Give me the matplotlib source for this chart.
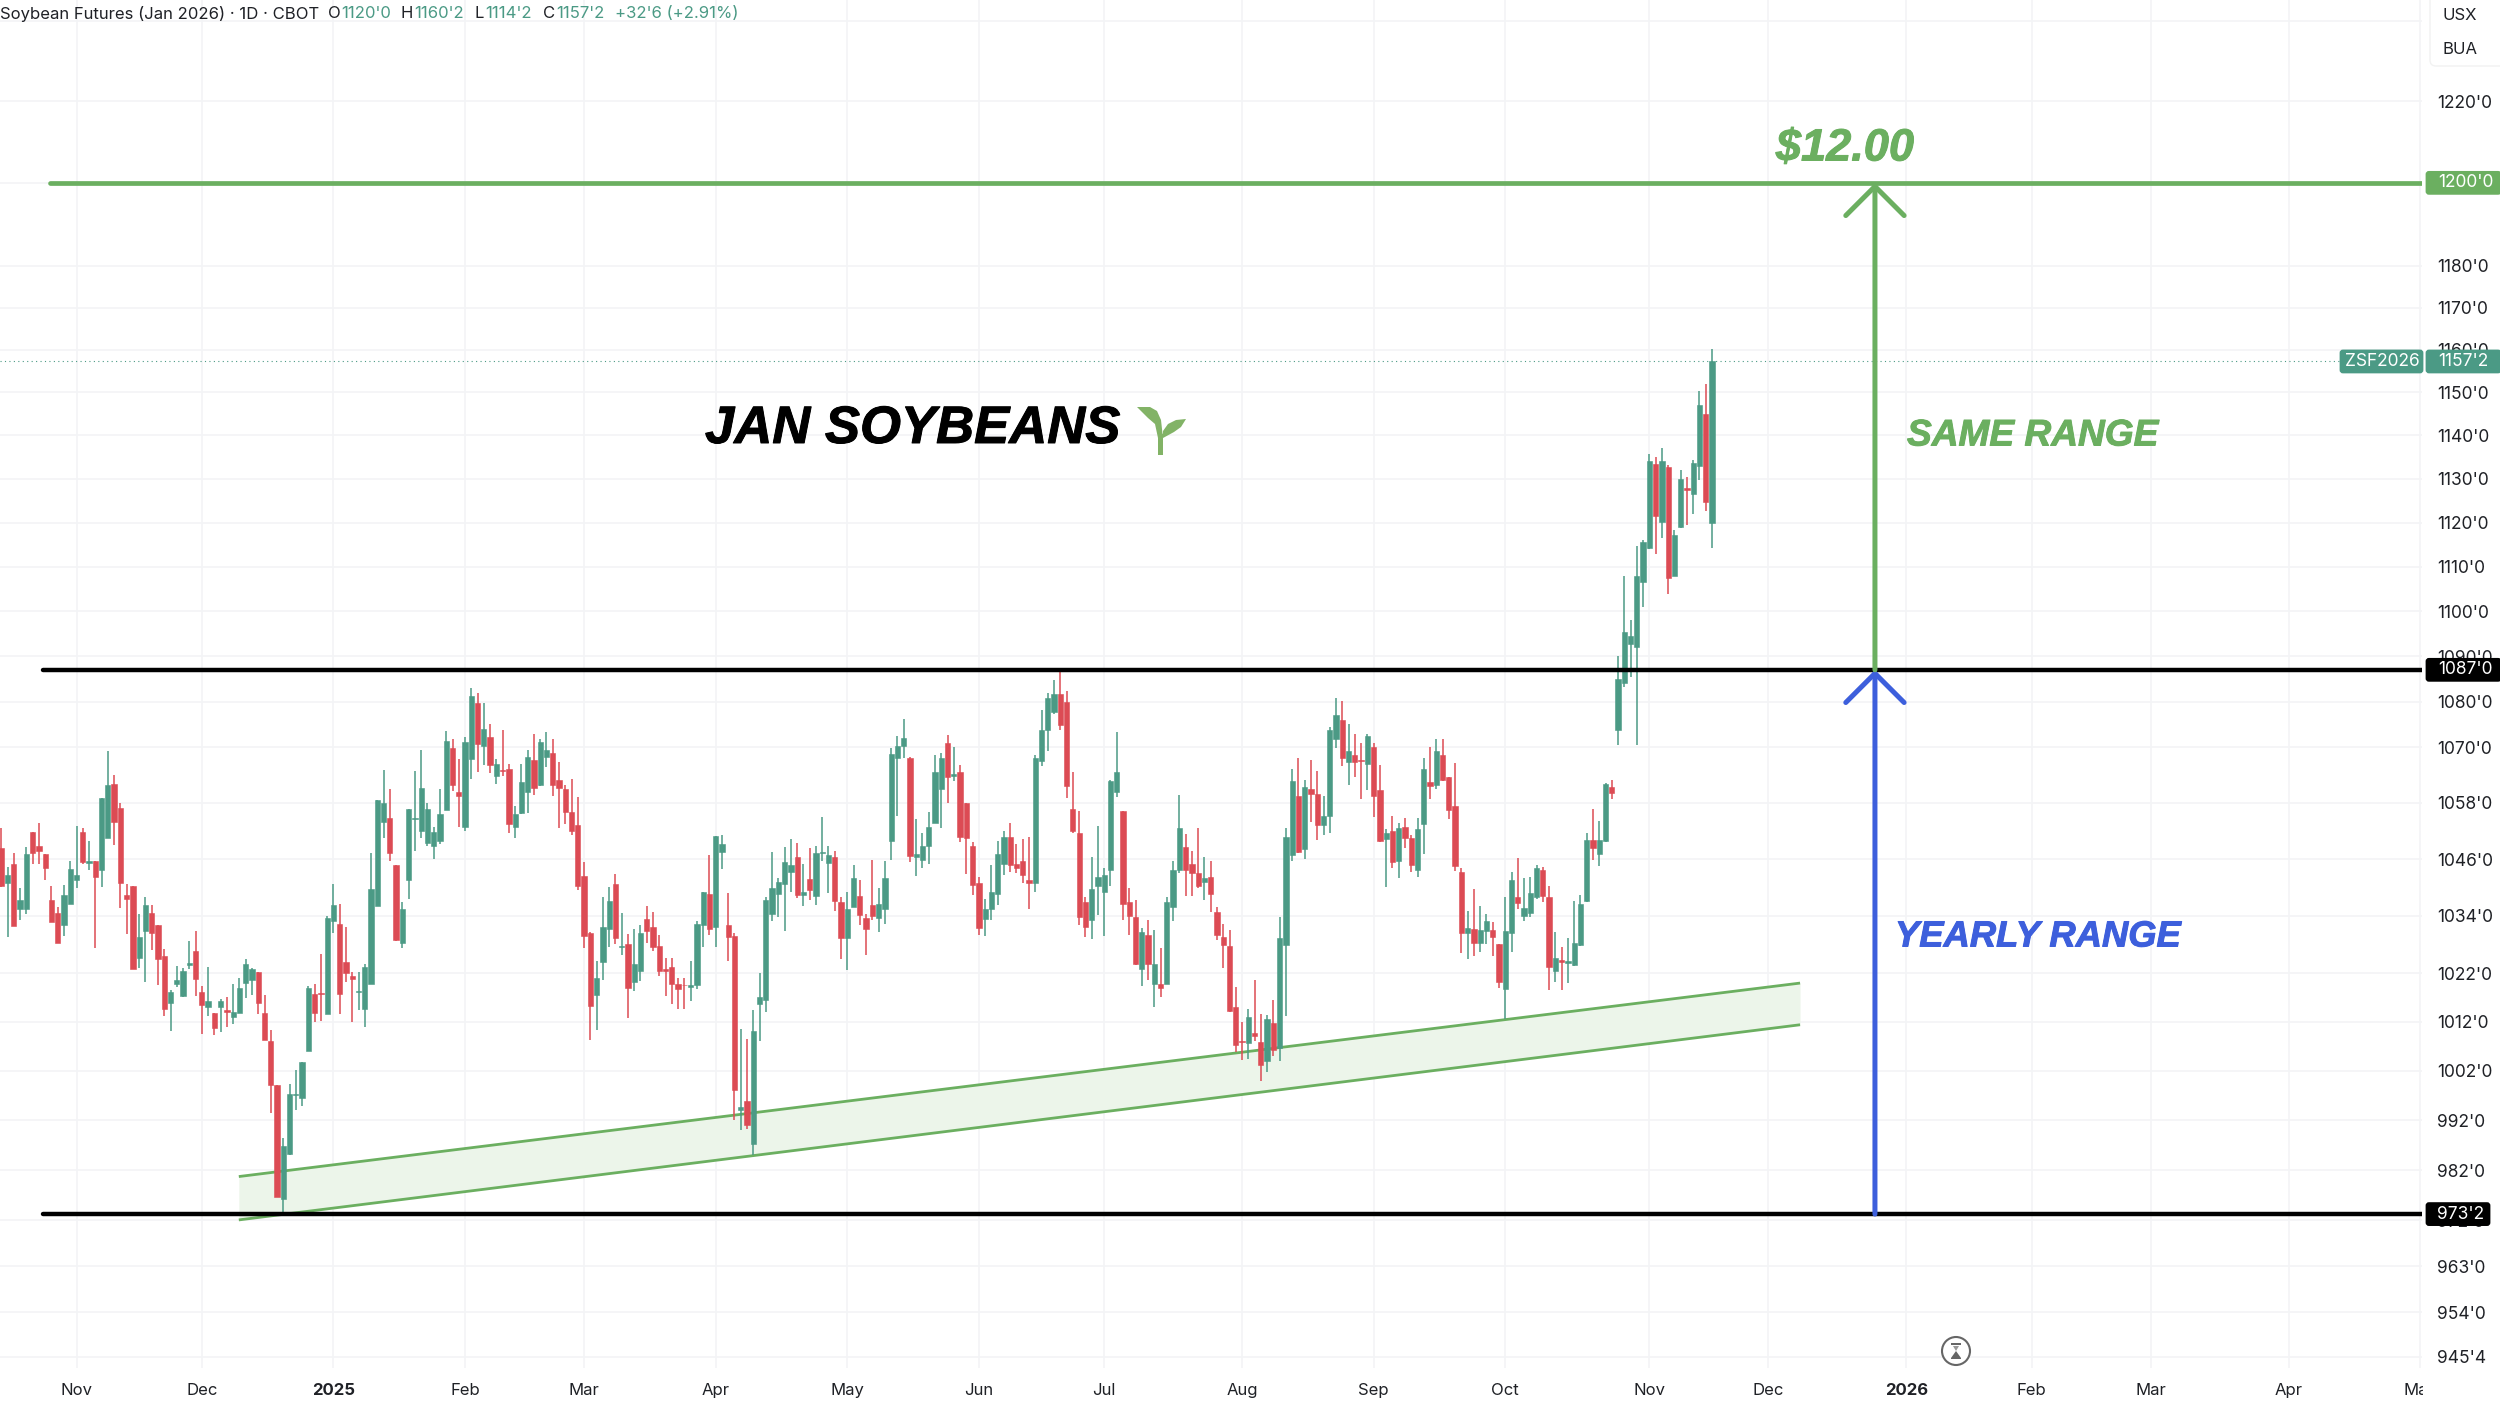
import numpy as np
import matplotlib
matplotlib.use("Agg")
import matplotlib.pyplot as plt
import matplotlib.patheffects as pe
from matplotlib.patches import FancyBboxPatch, Polygon, Circle
from matplotlib.transforms import IdentityTransform, Bbox, TransformedBbox

W, H = 2500, 1402

directions = (
    "RGRGGRRRRR" "GGGRGRGGRR" "RRGGRRRGGG" "GRRGRGRGGG" "GRRRRGGGGG"
    "RRGGRRRGGG" "GGRRGGGGGG" "GGRRGGRGRG" "RRGGGRGGRR" "RRRRRGGGRG"
    "RGGRRRRRRR" "GGGRGGRRGR" "GGGGGGGRGR" "GGGRRGGRRR" "GGGGGRGGGG"
    "GRGRRRRGGG" "GRRRRGGGGR" "RRRRGGGGGR" "RRGRGRGGGR" "RRGRRRRRRG"
    "RRGRGGGRGR" "RGGGRGRRGR" "RGRGRRGGRG" "RRRRGRGGRR" "GGRGGGRRGR"
    "GGGGRGGRGG" "GGGGRGRGGR" "GGRG"
)

highs = [
    1052.6,1044.4,1047.4,1039.8,1048.6,1051.8,1053.6,1047.1,1040.4,1035.8,
    1040.6,1045.5,1053.1,1052.6,1049.8,1045.6,1059,1069.3,1064,1058,
    1040.8,1040.4,1034.4,1037.9,1036.4,1032.2,1027,1018.5,1023.5,1023.2,
    1028.8,1030.9,1019.4,1023.4,1013.8,1016.7,1017.2,1019.8,1021.1,1024.9,
    1023.2,1022.4,1017.5,1010.4,999.2,988.4,999.4,1002.1,1003.7,1019.4,
    1019.8,1026.1,1033.9,1040.8,1036.5,1031.6,1022.4,1022.4,1023.9,1047.4,
    1058.6,1065.1,1061,1044.7,1037,1056.8,1065,1069.5,1058.1,1052.9,
    1061,1073.5,1071.9,1067.5,1072.2,1083,1082,1079.6,1075.2,1067.5,
    1073.7,1066.4,1057.3,1066.5,1069.5,1073,1071.9,1073.3,1071.8,1066.9,
    1061.8,1063.1,1059.3,1045.4,1030.6,1024.5,1037.9,1040.1,1042.8,1034.7,
    1030.3,1031.3,1032.2,1036.1,1034.9,1030,1025.3,1025.3,1021.1,1021.1,
    1024.5,1033,1039.1,1046.9,1051,1051.1,1038.9,1030.5,1010.5,1008.5,
    1014.5,1022,1037.9,1047.6,1042,1048.6,1050.2,1049.4,1045,1048.3,
    1048.8,1054.9,1048.8,1047.8,1038,1039,1044.7,1041.5,1034.5,1045.9,
    1039.9,1045.6,1069.9,1072.5,1076.2,1068,1054.5,1051.5,1056,1068.3,
    1068.8,1072.6,1070.1,1066.1,1058.1,1049.6,1042.2,1037.6,1044.8,1049.9,
    1051.9,1053.8,1049.3,1050.3,1050.8,1068.3,1078.2,1081.8,1084.7,1087,
    1082.3,1064.6,1056.3,1038,1046.4,1053.1,1044.2,1063,1073.3,1056.3,
    1039.9,1037.4,1031.4,1033.1,1031.1,1027.2,1038,1045.6,1059.8,1051.3,
    1047.7,1052.7,1046.4,1045.6,1035.9,1032.4,1031,1019.2,1012,1014.6,
    1020.6,1013.7,1013.4,1016.5,1033.7,1052.7,1065.3,1067.6,1063,1067.3,
    1064.8,1059.6,1074.5,1080.9,1080.2,1075.2,1073,1070.9,1072.9,1070.9,
    1066.1,1052.5,1055.1,1053.6,1054.7,1051.1,1054.7,1067.6,1070,1071.8,
    1071.9,1063.6,1066.6,1044.1,1035.1,1039.6,1036.1,1034.4,1032.7,1028.2,
    1038,1043.3,1046.3,1041.9,1042.3,1044.8,1044.4,1040.4,1030.6,1027.5,
    1029.4,1037.2,1038.4,1051.5,1056.6,1054.2,1062.2,1063,1090,1108,
    1098,1114.7,1116,1135.7,1135,1137,1133.2,1118.4,1132,1130.3,
    1134.3,1150.4,1152,1160.25,
]

body_tops = [
    1048.3,1042.7,1045,1037.3,1047.1,1051.8,1048.9,1047.1,1037.3,1034.7,
    1038.4,1043.9,1042.7,1051.8,1045.6,1045.6,1059,1061.8,1062,1057,
    1038.4,1040.4,1029.6,1036.2,1034.7,1032.2,1025.7,1018.2,1020.7,1022.5,
    1024.1,1026.7,1018.2,1016.2,1013.8,1016.2,1014.4,1014.1,1018.9,1023.9,
    1022.9,1022.2,1013.8,1008,999.2,986.9,997.2,997.3,1003.7,1018.9,
    1017.7,1018,1033.6,1036.4,1032.3,1024.4,1021.5,1018.4,1023.4,1039.7,
    1058.6,1058.1,1054.8,1044.7,1035.5,1056.6,1054.8,1061.2,1056.7,1051.8,
    1055.6,1071.5,1069.9,1060.4,1071.2,1081.2,1079.6,1074.1,1072.2,1066.5,
    1065.2,1065.3,1055.6,1062.5,1067.9,1067.3,1071.2,1069.4,1068.7,1062.9,
    1061,1056,1053.2,1042.5,1030.5,1021.1,1031.6,1037.1,1040.8,1027.7,
    1028.2,1024,1030.5,1033.3,1031.6,1027.8,1022.9,1023.3,1019.8,1019.7,
    1019.5,1032.4,1039.1,1038.6,1051,1049.2,1032,1029.9,994.6,995.9,
    1010.1,1017.2,1037.3,1039.8,1041.1,1045.4,1044.7,1046.4,1039,1041.8,
    1047.3,1047.5,1046.9,1046.4,1036.9,1035.4,1041.9,1038.3,1033.5,1036.2,
    1036.6,1041.9,1068.6,1070.3,1072,1067.8,1047,1048.9,1052.9,1064.6,
    1067.6,1071,1064.2,1064.7,1058.1,1048.8,1041,1035.4,1039,1047,
    1050.7,1050.7,1044.9,1045.5,1041.5,1067.6,1073.7,1080.7,1081.6,1081.6,
    1080,1056.8,1051.5,1036.9,1039.7,1042.2,1042.7,1062.8,1064.6,1056.3,
    1036.9,1033.7,1030.6,1030,1023.9,1019.9,1036.9,1043.7,1052.7,1048.5,
    1045,1043,1042,1042.2,1034.8,1029.5,1027.8,1015.1,1008.1,1012.9,
    1009.8,1007.9,1012.5,1011.7,1029.4,1050.7,1062.7,1059.6,1061.4,1061,
    1060,1055.1,1073.8,1077,1076,1069.2,1068.3,1067.2,1072.5,1070,
    1060.7,1051.5,1051.9,1052.7,1052.9,1050.5,1052.5,1065.3,1062.6,1069.2,
    1068.3,1063.5,1057.4,1043.3,1031.5,1031.2,1031.1,1032.9,1031,1028.1,
    1030.8,1041.6,1037.9,1035.6,1038.8,1044.1,1043.8,1037.9,1025.3,1024.7,
    1024.5,1028.4,1036.6,1050,1050,1050,1062,1061.4,1085,1095.3,
    1094.5,1107.8,1115.5,1134.2,1133.3,1134.2,1132.8,1117.2,1130,1128,
    1133.7,1147,1145,1157.25,
]

body_bottoms = [
    1040.4,1040.9,1031.8,1035.5,1035.5,1047.4,1047.8,1044.1,1032.8,1028.4,
    1032.2,1036.5,1041.6,1045.4,1045.2,1042.2,1043.8,1050.6,1054,1041,
    1037.6,1023,1025.3,1030.8,1030.4,1024.9,1014.6,1015.8,1019.9,1017.4,
    1023.8,1020.9,1015.5,1015.1,1010.7,1015.1,1014,1013,1013.8,1020.1,
    1020.6,1015.8,1008.3,999.2,976.6,976.3,985.2,997.1,996.5,1006,
    1013.8,1017.7,1013.7,1033,1017.7,1022.1,1020.9,1018.2,1014.6,1019.9,
    1036.1,1053.9,1047.2,1029,1028.4,1041.6,1054.6,1051.9,1049.5,1048.8,
    1049.8,1056.5,1061.9,1059.5,1052.8,1067.5,1070.7,1070.4,1066.2,1063.8,
    1064.9,1053.5,1052.9,1055.8,1060.3,1061.2,1061.8,1067.9,1061.9,1061.2,
    1056,1052.1,1040.4,1029.9,1015.2,1017.5,1024.3,1031.2,1029.4,1027.4,
    1018.9,1020.3,1022.5,1030.9,1027.4,1022.6,1022.6,1019.8,1018.8,1019.5,
    1019.2,1019.5,1032,1031.2,1031.6,1047.5,1029.5,998.1,994.1,991.1,
    987.2,1015.7,1016.5,1034.4,1038.6,1040.8,1043.3,1038.4,1038.4,1039.4,
    1038.3,1047.3,1045.1,1037.1,1029.3,1029.3,1035.9,1034.2,1031.2,1034,
    1033.5,1035.4,1049.9,1067.6,1070.3,1046.7,1046.4,1045.9,1048.9,1053.7,
    1061.1,1063.7,1063.8,1050.7,1050.6,1040.6,1031.4,1033.4,1035.4,1038.6,
    1045,1044.7,1044.2,1042.7,1041,1041,1067,1073.7,1077.7,1074.9,
    1061.6,1051.9,1033.8,1031.7,1033.1,1040.4,1039.1,1043.6,1060.3,1036.6,
    1034,1023.9,1023,1023.9,1019.9,1018.9,1019.8,1035.9,1043.8,1043.6,
    1043,1040.4,1041.2,1038.6,1030,1027.9,1014.3,1007.3,1007.9,1007.6,
    1009,1003.2,1003.9,1006.2,1006.6,1027.9,1046.8,1047.6,1048.1,1059.9,
    1053.3,1053.3,1055.1,1071.9,1067.7,1066.9,1066.9,1067,1066.5,1059.5,
    1049.8,1050.2,1045.4,1045.6,1050.4,1044.7,1043.8,1053.4,1061.7,1061.8,
    1062.9,1056.5,1044.6,1030.4,1030.4,1028.3,1028.3,1030.9,1029.5,1020.2,
    1018.8,1030.4,1036.8,1034,1034.6,1037.9,1038.2,1023.3,1022.6,1024.3,
    1024.2,1023.8,1027.9,1037.1,1048.4,1047.1,1049.8,1060.2,1073.7,1084,
    1092.8,1092,1106.5,1114.2,1121.6,1120.2,1107.5,1108,1119,1127.4,
    1126.5,1133,1124.6,1120,
]

lows = [
    1040,1029.5,1031.8,1033.1,1034.5,1045,1045,1041.6,1032.8,1028.4,
    1029.8,1036.5,1039.9,1045,1043.8,1027.2,1040.2,1050.6,1049,1035.7,
    1030.3,1023,1023.2,1020.2,1026.8,1019.6,1013.3,1010.1,1019.1,1017.1,
    1023,1017.4,1009.6,1013.3,1009.2,1009.9,1010.9,1011.6,1013.8,1017,
    1017.5,1013.6,1008.2,993.5,976.6,973.25,985.1,994,994.8,1006,
    1011.9,1012.2,1013.7,1030.5,1013.6,1020.3,1011.9,1014.5,1010.9,1019.9,
    1036.1,1050.4,1045.6,1028.8,1027.2,1037.5,1047.8,1050.5,1048.8,1046,
    1049.2,1056.5,1060.5,1052.9,1052.1,1063.2,1064.7,1066.2,1064.4,1062,
    1063.8,1051.6,1050.5,1055.6,1055.8,1059.7,1061.6,1065.8,1059.6,1052.7,
    1053.4,1051.2,1039.4,1027.3,1008.3,1010.3,1020.7,1027.5,1028.1,1025.9,
    1012.8,1018.3,1020.4,1028.3,1026.6,1021.4,1017.3,1015.7,1014.7,1014.7,
    1016.2,1018.7,1027.4,1030,1027.5,1043.9,1024.6,992,990,990.2,
    985,1008,1014.1,1032.9,1033.8,1030.8,1039,1037.7,1036,1037.3,
    1036.4,1045.6,1038.8,1035.1,1025,1022.8,1035.8,1032.1,1025.9,1033.2,
    1030.7,1032.4,1045.8,1055.1,1067.7,1045.3,1042.4,1044.2,1044.9,1053.7,
    1052.6,1058.1,1062.8,1049.7,1042.8,1038.5,1030,1029.8,1033.1,1036.2,
    1042.6,1043.3,1043.1,1041,1035.4,1039,1065.9,1069.2,1077.4,1073.8,
    1059.1,1051.6,1032.1,1029.6,1029.1,1034.1,1029.8,1040.3,1059.2,1033.2,
    1030.1,1023.7,1019.3,1020.6,1015.1,1017.2,1019.8,1032.9,1043.1,1038.1,
    1038.1,1039.9,1037.4,1034.8,1028.9,1023.2,1014.1,1005.9,1004.1,1004.4,
    1008.1,1000,1001.8,1005.1,1003.9,1013.2,1045.6,1047.2,1046,1053.9,
    1050,1051.1,1051.6,1069.9,1065.9,1061.8,1063.5,1058.9,1060.7,1054.9,
    1049.7,1040.2,1044.1,1042,1048.3,1043.2,1042.3,1047.1,1058.8,1061.1,
    1062.8,1054.5,1043.4,1026.2,1024.9,1025.6,1026.5,1028.2,1025.6,1019,
    1012.5,1026.5,1035.5,1033,1033.7,1037.5,1037,1018.6,1020.3,1018.6,
    1020.1,1023.6,1027.7,1037,1045.9,1044.5,1049.7,1058.8,1070.5,1083.2,
    1085.5,1070.5,1101,1114,1112.8,1116.5,1103.8,1108,1118.8,1119.5,
    1122,1129.7,1122.7,1114.25,
]

month_labels = ["Nov","Dec","2025","Feb","Mar","Apr","May","Jun","Jul","Aug","Sep","Oct",
                "Nov","Dec","2026","Feb","Mar","Apr","May"]
month_bars = [12,32,53,74,93,114,135,156,176,198,219,240,263,282,304,324,343,365,386]

price_ticks = [1240,1220,1200,1180,1170,1160,1150,1140,1130,1120,1110,1100,1090,1080,1070,
               1058,1046,1034,1022,1012,1002,992,982,972,963,954,945.5]
price_labels = ["","1220'0","","1180'0","1170'0","1160'0","1150'0","1140'0","1130'0",
                "1120'0","1110'0","1100'0","1090'0","1080'0","1070'0","1058'0","1046'0","1034'0",
                "1022'0","1012'0","1002'0","992'0","982'0","972'0","963'0","954'0","945'4"]

target_price = 1200.0
range_high = 1087.0
range_low = 973.25
last_close = 1157.25
level_start_bars = {"range": 6.65, "target": 7.8}
arrow_bar = 299
channel_bars = [37.9, 287.05]
channel_upper = [980.7, 1020.0]
channel_lower = [972.1, 1011.4]

GREEN_C = "#4B9A85"
RED_C = "#DC4B54"
LINE_GREEN = "#6BAF60"
BLUE = "#3D5FDC"
GRID = "#F3F4F6"
TEXT = "#1F2126"
FONT = "Inter"

fig = plt.figure(figsize=(W/100, H/100), dpi=100, facecolor="white")
ax = fig.add_axes([0, (H-1368)/H, 2422/W, 1368/H])
ax.set_yscale("log")
ax.set_xlim(-0.212, 386.3)
ax.set_ylim(943.3, 1245.4)
for s in ax.spines.values():
    s.set_visible(False)

ax.minorticks_off()
ax.yaxis.set_major_locator(matplotlib.ticker.FixedLocator(price_ticks))
ax.yaxis.set_minor_locator(matplotlib.ticker.NullLocator())
ax.yaxis.set_major_formatter(matplotlib.ticker.FixedFormatter(price_labels))
ax.yaxis.tick_right()
ax.tick_params(axis="y", length=0, pad=11, labelsize=12.5, labelcolor=TEXT)
ax.set_xticks(month_bars)
ax.set_xticklabels(month_labels)
ax.tick_params(axis="x", length=0, pad=11, labelsize=12, labelcolor=TEXT)
for lab in ax.get_yticklabels() + ax.get_xticklabels():
    lab.set_fontfamily(FONT)
for lab in ax.get_yticklabels():
    lab.set_ha("left")
for lab, txt in zip(ax.get_xticklabels(), month_labels):
    if txt in ("2025", "2026"):
        lab.set_fontweight("bold")
ax.grid(True, color=GRID, lw=1.2, zorder=0)
ax.set_axisbelow(True)
clip = TransformedBbox(Bbox([[0, 0], [2423, H]]), IdentityTransform())
ax.get_xticklabels()[-1].set_clip_on(True)
ax.get_xticklabels()[-1].set_clip_box(clip)

x = np.arange(len(highs))
highs_a, lows_a = np.array(highs), np.array(lows)
tops, bottoms = np.array(body_tops), np.array(body_bottoms)
colors = [GREEN_C if d == "G" else RED_C for d in directions]

# channel
ax.fill_between(channel_bars, channel_lower, channel_upper, color="#ECF5EA", lw=0, zorder=1)
ax.plot(channel_bars, channel_upper, color=LINE_GREEN, lw=2.0, zorder=2, solid_capstyle="butt")
ax.plot(channel_bars, channel_lower, color=LINE_GREEN, lw=2.0, zorder=2, solid_capstyle="butt")

# candles
ax.vlines(x, lows_a, highs_a, colors=colors, lw=1.1, zorder=3)
ax.bar(x, tops-bottoms, bottom=bottoms, width=0.84, color=colors, edgecolor=colors, lw=0.4, zorder=4)

# levels
ax.plot([level_start_bars["range"], 386.3], [range_high]*2, color="black", lw=3.2, zorder=6, solid_capstyle="round")
ax.plot([level_start_bars["range"], 386.3], [range_low]*2, color="black", lw=3.2, zorder=6, solid_capstyle="round")
ax.plot([level_start_bars["target"], 386.3], [target_price]*2, color=LINE_GREEN, lw=3.4, zorder=6, solid_capstyle="round")
ax.plot([-0.212, 374], [last_close]*2, color=GREEN_C, lw=0.8, ls=(0, (1, 3)), zorder=2)

# arrows
def arrow(y0, y1, col):
    ax.annotate("", xy=(arrow_bar, y1), xytext=(arrow_bar, y0),
                arrowprops=dict(arrowstyle="->,head_length=21,head_width=21", color=col, lw=3.6,
                                shrinkA=0, shrinkB=0, mutation_scale=1), zorder=7)
arrow(range_low, range_high, BLUE)
arrow(range_high, target_price, LINE_GREEN)

def fx(px): return px/W
def fy(py): return 1-py/H

# annotations
def note(px, py, s, size, col, ha="left", stroke=0.7):
    t = fig.text(fx(px), fy(py), s, family="Liberation Sans", weight="bold", style="italic",
                 fontsize=size, color=col, va="center", ha=ha, zorder=8)
    t.set_path_effects([pe.withStroke(linewidth=stroke, foreground=col)])

note(705, 429, "JAN SOYBEANS", 37.9, "black")
note(1845, 149, "$12.00", 32.5, LINE_GREEN, ha="center")
note(1907, 436, "SAME RANGE", 26.7, LINE_GREEN)
note(1895, 937, "YEARLY RANGE", 26.2, BLUE)

# sprout
SPROUT = "#82B366"
def poly(pts, col, z=8):
    fig.add_artist(Polygon([(p[0], H-p[1]) for p in pts], closed=True, fc=col, ec="none",
                           transform=IdentityTransform(), zorder=z))
poly([(1158,432),(1163,434),(1163,455),(1158,455)], SPROUT)
poly([(1137,407),(1150,407),(1157,411),(1161,420),(1163,438),(1158,438),(1155,424),(1148,418)], SPROUT)
poly([(1163,431),(1168,424),(1176,420),(1186,419),(1181,427),(1174,432),(1163,438)], SPROUT)

# header
hdr_y = fy(14)
def hdr(px, s, col):
    fig.text(fx(px), hdr_y, s, family=FONT, fontsize=12, color=col, va="center", ha="left", zorder=8)
hdr(0, "Soybean Futures (Jan 2026) · 1D · CBOT", TEXT)
hdr(328, "O", TEXT); hdr(341, "1120'0", GREEN_C)
hdr(401, "H", TEXT); hdr(414, "1160'2", GREEN_C)
hdr(475, "L", TEXT); hdr(485, "1114'2", GREEN_C)
hdr(543, "C", TEXT); hdr(556, "1157'2", GREEN_C)
hdr(615, "+32'6 (+2.91%)", GREEN_C)

# price tags
fig.canvas.draw()
def ypx(p):
    return ax.transData.transform((0, p))[1]
def tag(x0, x1, price, s, fc, txtx=None):
    yc = ypx(price)
    fig.add_artist(FancyBboxPatch((x0+2, yc-10.5), x1-x0-4, 21, boxstyle="round,pad=0,rounding_size=2",
                                  mutation_aspect=1, fc=fc, ec=fc, lw=2.0,
                                  transform=IdentityTransform(), zorder=9))
    fig.text(fx(txtx if txtx else x0+13), yc/H, s, family=FONT, fontsize=12.5, color="white",
             va="center", ha="left", zorder=10)
tag(2425, 2502, target_price, "1200'0", LINE_GREEN)
tag(2425, 2502, last_close, "1157'2", GREEN_C)
tag(2339, 2424, last_close, "ZSF2026", GREEN_C, 2345)
tag(2425, 2502, range_high, "1087'0", "black")
tag(2425, 2491, range_low, "973'2", "black", 2437)

# currency box
fig.add_artist(FancyBboxPatch((2430, H-66), 80, 80, boxstyle="round,pad=0,rounding_size=6",
                              fc="white", ec="#F2F2F2", lw=1, transform=IdentityTransform(), zorder=9))
fig.text(fx(2442), fy(15), "USX", family=FONT, fontsize=12, color=TEXT, va="center", zorder=10)
fig.text(fx(2442), fy(50), "BUA", family=FONT, fontsize=12, color=TEXT, va="center", zorder=10)

# session icon
ICON = "#666666"
fig.add_artist(Circle((1956, H-1351), 14, fc="white", ec=ICON, lw=1.5,
                      transform=IdentityTransform(), zorder=9))
poly([(1951,1343),(1961,1343),(1961,1345),(1951,1345)], ICON, 10)
poly([(1953,1346),(1959,1346),(1956,1351)], "#999999", 10)
poly([(1956,1351),(1961,1358),(1961,1359),(1951,1359),(1951,1358)], ICON, 10)

fig.savefig("out.png", dpi=100)
